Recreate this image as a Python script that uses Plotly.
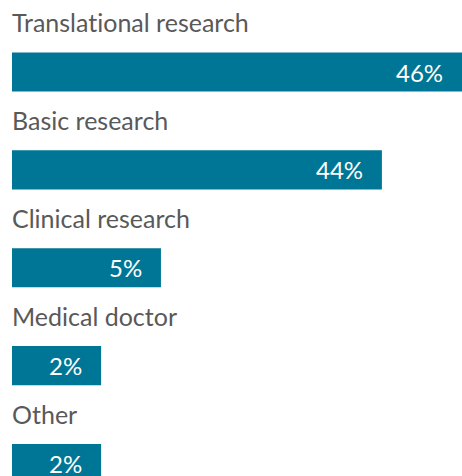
import plotly.graph_objects as go

categories = ["Translational research", "Basic research", "Clinical research", "Medical doctor", "Other"]
pct_labels = ["46%", "44%", "5%", "2%", "2%"]
# bar lengths as drawn in the picture (0-100 scale across the plotting width)
bar_lengths = [100, 82.2, 33.1, 19.8, 19.8]

BAR_COLOR = "#007696"
TEXT_COLOR = "#595959"
FONT = "Lato, 'Open Sans', sans-serif"

fig = go.Figure()
fig.add_trace(go.Bar(
    x=bar_lengths,
    y=categories,
    orientation="h",
    marker=dict(color=BAR_COLOR, line=dict(width=0)),
    width=0.4,
    hoverinfo="skip",
))

for cat, val, lab in zip(categories, bar_lengths, pct_labels):
    fig.add_annotation(
        x=val, y=cat, xref="x", yref="y",
        text=lab, showarrow=False,
        xanchor="right", yanchor="middle", xshift=-17,
        font=dict(family=FONT, size=24, color="white"),
    )
    fig.add_annotation(
        x=0, y=cat, xref="x", yref="y",
        text='<span style="font-variant-ligatures:none">' + cat + '</span>',
        showarrow=False,
        xanchor="left", yanchor="middle", yshift=50, xshift=-2,
        font=dict(family=FONT, size=25, color=TEXT_COLOR),
    )

fig.update_layout(
    width=462, height=476,
    margin=dict(l=12, r=0, t=0, b=0),
    paper_bgcolor="white", plot_bgcolor="white",
    showlegend=False,
    xaxis=dict(range=[0, 100], visible=False, fixedrange=True),
    yaxis=dict(range=[4.127, -0.7355], visible=False, type="category",
               categoryorder="array", categoryarray=categories, fixedrange=True),
)

fig.write_html("out.html", config={"displayModeBar": False})
